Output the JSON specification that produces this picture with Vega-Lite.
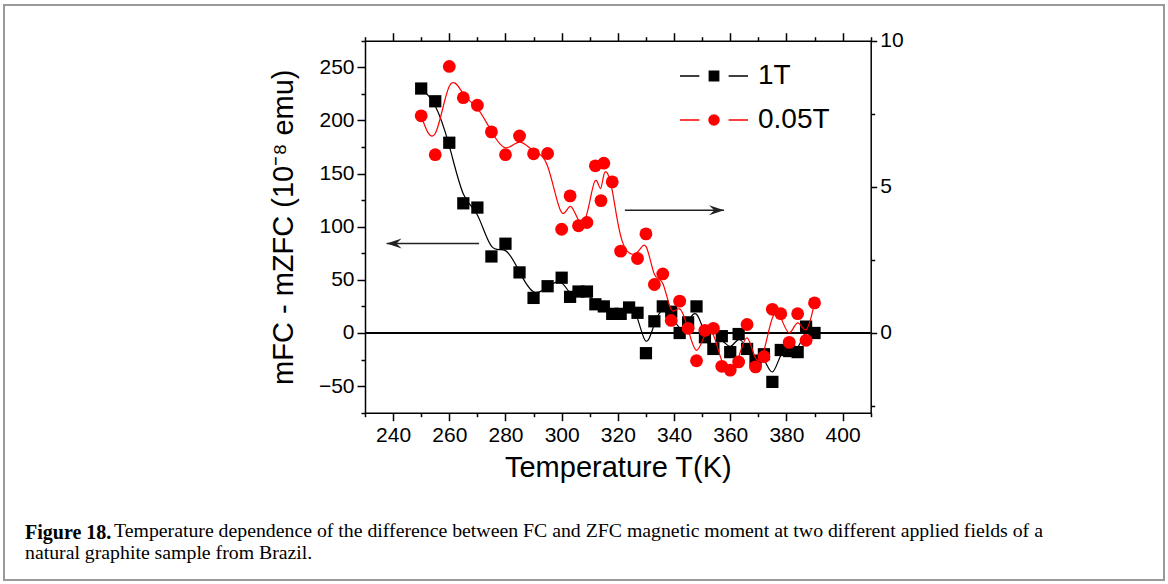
{
  "$schema": "https://vega.github.io/schema/vega-lite/v6.json",
  "width": 1160,
  "height": 575,
  "autosize": {"type": "none"},
  "padding": {"left": 4, "top": 5, "right": 4, "bottom": 4},
  "background": "white",
  "config": {
    "view": {"stroke": "#999999", "strokeWidth": 2},
    "font": "Liberation Sans",
    "axis": {
      "domainColor": "black", "domainWidth": 1.5, "tickColor": "black", "tickWidth": 1.5,
      "labelColor": "black", "labelFont": "Liberation Sans", "labelFontSize": 21,
      "titleFont": "Liberation Sans", "titleFontSize": 29, "titleFontWeight": "normal", "titleColor": "black",
      "grid": false, "labelFlush": false, "labelOverlap": false, "labelBound": false
    }
  },
  "title": {
    "text": "Figure 18.",
    "subtitle": ["\u200b\u00a0\u00a0\u00a0\u00a0\u00a0\u00a0\u00a0\u00a0\u00a0\u00a0\u00a0\u00a0\u00a0\u00a0\u00a0\u00a0\u00a0\u00a0Temperature dependence of the difference between FC and ZFC magnetic moment at two different applied fields of a", "natural graphite sample from Brazil."],
    "orient": "bottom", "anchor": "start", "frame": "group",
    "offset": -57, "dx": 21,
    "font": "Liberation Serif", "fontSize": 20, "fontWeight": "bold", "color": "black",
    "subtitleFont": "Liberation Serif", "subtitleFontSize": 19.8, "subtitleColor": "black", "subtitleFontWeight": "normal",
    "subtitlePadding": -22, "subtitleLineHeight": 22
  },
  "datasets": {
    "black": [
      {"T": 250, "m": 230}, {"T": 255, "m": 218}, {"T": 260, "m": 179}, {"T": 265, "m": 122},
      {"T": 270, "m": 118}, {"T": 275, "m": 72}, {"T": 280, "m": 84}, {"T": 285, "m": 57},
      {"T": 290, "m": 33}, {"T": 295, "m": 44}, {"T": 300, "m": 52}, {"T": 303, "m": 34},
      {"T": 306, "m": 39}, {"T": 309, "m": 39}, {"T": 312, "m": 27}, {"T": 315, "m": 25},
      {"T": 318, "m": 18}, {"T": 321, "m": 18}, {"T": 324, "m": 24}, {"T": 327, "m": 19},
      {"T": 330, "m": -19}, {"T": 333, "m": 11}, {"T": 336, "m": 25}, {"T": 339, "m": 20},
      {"T": 342, "m": 0}, {"T": 345, "m": 10}, {"T": 348, "m": 25}, {"T": 351, "m": -4},
      {"T": 354, "m": -15}, {"T": 357, "m": -3}, {"T": 360, "m": -18}, {"T": 363, "m": -1},
      {"T": 366, "m": -15}, {"T": 369, "m": -26}, {"T": 372, "m": -20}, {"T": 375, "m": -46},
      {"T": 378, "m": -16}, {"T": 381, "m": -17}, {"T": 384, "m": -18}, {"T": 387, "m": 6},
      {"T": 390, "m": 0}
    ],
    "red": [
      {"T": 250, "r": 7.43}, {"T": 255, "r": 6.10}, {"T": 260, "r": 9.12}, {"T": 265, "r": 8.05},
      {"T": 270, "r": 7.79}, {"T": 275, "r": 6.88}, {"T": 280, "r": 6.10}, {"T": 285, "r": 6.74},
      {"T": 290, "r": 6.13}, {"T": 295, "r": 6.14}, {"T": 300, "r": 3.55}, {"T": 303, "r": 4.69},
      {"T": 306, "r": 3.67}, {"T": 309, "r": 3.78}, {"T": 312, "r": 5.72}, {"T": 314, "r": 4.53},
      {"T": 315, "r": 5.81}, {"T": 318, "r": 5.17}, {"T": 321, "r": 2.80}, {"T": 327, "r": 2.55},
      {"T": 330, "r": 3.39}, {"T": 333, "r": 1.66}, {"T": 336, "r": 2.02}, {"T": 339, "r": 0.43},
      {"T": 342, "r": 1.09}, {"T": 345, "r": 0.16}, {"T": 348, "r": -0.95}, {"T": 351, "r": 0.09},
      {"T": 354, "r": 0.16}, {"T": 357, "r": -1.14}, {"T": 360, "r": -1.27}, {"T": 363, "r": -0.99},
      {"T": 366, "r": 0.29}, {"T": 369, "r": -1.16}, {"T": 372, "r": -0.81}, {"T": 375, "r": 0.81},
      {"T": 378, "r": 0.66}, {"T": 381, "r": -0.32}, {"T": 384, "r": 0.66}, {"T": 387, "r": -0.25},
      {"T": 390, "r": 1.03}
    ],
    "arrows": [
      {"dir": "left", "from": 270.6, "to": 237.7, "m": 84.2},
      {"dir": "right", "from": 322.5, "to": 357.8, "m": 115.5}
    ],
    "legend": [{"series": "1T"}, {"series": "0.05T"}]
  },
  "resolve": {"scale": {"y": "independent"}, "axis": {"x": "independent", "y": "independent"}},
  "layer": [
    {
      "data": {"values": [{}]},
      "mark": {"type": "rule", "color": "black", "strokeWidth": 2},
      "encoding": {
        "x": {"datum": 230, "type": "quantitative", "scale": {"domain": [230, 410], "range": [361, 866.7], "nice": false, "zero": false}, "axis": null},
        "x2": {"datum": 410},
        "y": {"datum": 0, "type": "quantitative", "scale": {"domain": [-75, 275], "range": [407.7, 35.7], "nice": false, "zero": false}, "axis": null}
      }
    },
    {
      "data": {"name": "black"},
      "mark": {"type": "line", "interpolate": "basis", "color": "black", "strokeWidth": 1.2},
      "encoding": {
        "x": {"field": "T", "type": "quantitative", "scale": {"domain": [230, 410], "range": [361, 866.7], "nice": false, "zero": false},
          "axis": {"orient": "bottom", "offset": -167.3, "values": [230, 250, 270, 290, 310, 330, 350, 370, 390, 410], "tickSize": 4, "labels": false, "domain": false, "title": null}},
        "y": {"field": "m", "type": "quantitative", "scale": {"domain": [-75, 275], "range": [407.7, 35.7], "nice": false, "zero": false},
          "axis": {"orient": "left", "offset": -361, "values": [-75, -25, 25, 75, 125, 175, 225, 275], "tickSize": 4, "labels": false, "domain": false, "title": null}}
      }
    },
    {
      "data": {"name": "black"},
      "mark": {"type": "square", "color": "black", "size": 150, "opacity": 1},
      "encoding": {
        "x": {"field": "T", "type": "quantitative", "scale": {"domain": [230, 410], "range": [361, 866.7], "nice": false, "zero": false},
          "axis": {"orient": "bottom", "offset": -167.3, "values": [240, 260, 280, 300, 320, 340, 360, 380, 400], "tickSize": 8, "labelPadding": 4, "title": "Temperature T(K)", "titlePadding": 8}},
        "y": {"field": "m", "type": "quantitative", "scale": {"domain": [-75, 275], "range": [407.7, 35.7], "nice": false, "zero": false},
          "axis": {"orient": "left", "offset": -361, "values": [-50, 0, 50, 100, 150, 200, 250], "tickSize": 8, "labelPadding": 3, "title": "mFC - mZFC (10\u207b\u2078 emu)", "titlePadding": 20}}
      }
    },
    {
      "data": {"name": "red"},
      "mark": {"type": "line", "interpolate": "basis", "color": "red", "strokeWidth": 1.2},
      "encoding": {
        "x": {"field": "T", "type": "quantitative", "scale": {"domain": [230, 410], "range": [361, 866.7], "nice": false, "zero": false},
          "axis": {"orient": "top", "offset": -35.7, "values": [240, 260, 280, 300, 320, 340, 360, 380, 400], "tickSize": 8, "labels": false, "title": null}},
        "y": {"field": "r", "type": "quantitative", "scale": {"domain": [-2.727, 10], "range": [407.7, 35.7], "nice": false, "zero": false},
          "axis": {"orient": "right", "offset": -293.3, "values": [-2.5, 2.5, 7.5], "tickSize": 4, "labels": false, "domain": false, "title": null}}
      }
    },
    {
      "data": {"name": "red"},
      "mark": {"type": "circle", "color": "red", "size": 165, "opacity": 1},
      "encoding": {
        "x": {"field": "T", "type": "quantitative", "scale": {"domain": [230, 410], "range": [361, 866.7], "nice": false, "zero": false},
          "axis": {"orient": "top", "offset": -35.7, "values": [230, 250, 270, 290, 310, 330, 350, 370, 390, 410], "tickSize": 4, "labels": false, "domain": false, "title": null}},
        "y": {"field": "r", "type": "quantitative", "scale": {"domain": [-2.727, 10], "range": [407.7, 35.7], "nice": false, "zero": false},
          "axis": {"orient": "right", "offset": -293.3, "values": [0, 5, 10], "tickSize": 6, "labelPadding": 3, "title": null}}
      }
    },
    {
      "data": {"name": "arrows"},
      "mark": {"type": "rule", "color": "#222222", "strokeWidth": 1.5},
      "encoding": {
        "x": {"field": "from", "type": "quantitative", "scale": {"domain": [230, 410], "range": [361, 866.7], "nice": false, "zero": false}, "axis": null},
        "x2": {"field": "to"},
        "y": {"field": "m", "type": "quantitative", "scale": {"domain": [-75, 275], "range": [407.7, 35.7], "nice": false, "zero": false}, "axis": null}
      }
    },
    {
      "data": {"name": "arrows"},
      "transform": [{"filter": "datum.dir === 'left'"}],
      "mark": {"type": "point", "shape": "M0,0 L1,-0.33 L0.65,0 L1,0.33 Z", "filled": true, "color": "#222222", "size": 900, "opacity": 1},
      "encoding": {
        "x": {"field": "to", "type": "quantitative", "scale": {"domain": [230, 410], "range": [361, 866.7], "nice": false, "zero": false}, "axis": null},
        "y": {"field": "m", "type": "quantitative", "scale": {"domain": [-75, 275], "range": [407.7, 35.7], "nice": false, "zero": false}, "axis": null}
      }
    },
    {
      "data": {"name": "arrows"},
      "transform": [{"filter": "datum.dir === 'right'"}],
      "mark": {"type": "point", "shape": "M0,0 L-1,-0.33 L-0.65,0 L-1,0.33 Z", "filled": true, "color": "#222222", "size": 900, "opacity": 1},
      "encoding": {
        "x": {"field": "to", "type": "quantitative", "scale": {"domain": [230, 410], "range": [361, 866.7], "nice": false, "zero": false}, "axis": null},
        "y": {"field": "m", "type": "quantitative", "scale": {"domain": [-75, 275], "range": [407.7, 35.7], "nice": false, "zero": false}, "axis": null}
      }
    },
    {
      "data": {"name": "legend"},
      "mark": {"type": "point", "opacity": 0, "strokeWidth": 1.3},
      "encoding": {
        "shape": {"field": "series", "type": "nominal",
          "scale": {"domain": ["1T", "0.05T"], "range": ["M-1,0 L-0.43,0 M0.43,0 L1,0 M-0.14,-0.14 L0.14,-0.14 L0.14,0.14 L-0.14,0.14 Z", "M-1,0 L-0.43,0 M0.43,0 L1,0 M0.15,0 A0.15,0.15 0 1,1 -0.15,0 A0.15,0.15 0 1,1 0.15,0 Z"]},
          "legend": {"orient": "none", "legendX": 675, "legendY": 56, "title": null, "symbolSize": 4624, "symbolStrokeWidth": 1.3, "symbolOpacity": 1, "labelFont": "Liberation Sans", "labelFontSize": 28, "labelColor": "black", "labelOffset": 9, "rowPadding": 14, "clipHeight": 30}},
        "fill": {"field": "series", "type": "nominal", "scale": {"domain": ["1T", "0.05T"], "range": ["black", "red"]},
          "legend": {"orient": "none", "legendX": 675, "legendY": 56, "title": null, "symbolSize": 4624, "symbolStrokeWidth": 1.3, "symbolOpacity": 1, "labelFont": "Liberation Sans", "labelFontSize": 28, "labelColor": "black", "labelOffset": 9, "rowPadding": 14, "clipHeight": 30}},
        "stroke": {"field": "series", "type": "nominal", "scale": {"domain": ["1T", "0.05T"], "range": ["black", "red"]},
          "legend": {"orient": "none", "legendX": 675, "legendY": 56, "title": null, "symbolSize": 4624, "symbolStrokeWidth": 1.3, "symbolOpacity": 1, "labelFont": "Liberation Sans", "labelFontSize": 28, "labelColor": "black", "labelOffset": 9, "rowPadding": 14, "clipHeight": 30}}
      }
    }
  ]
}
